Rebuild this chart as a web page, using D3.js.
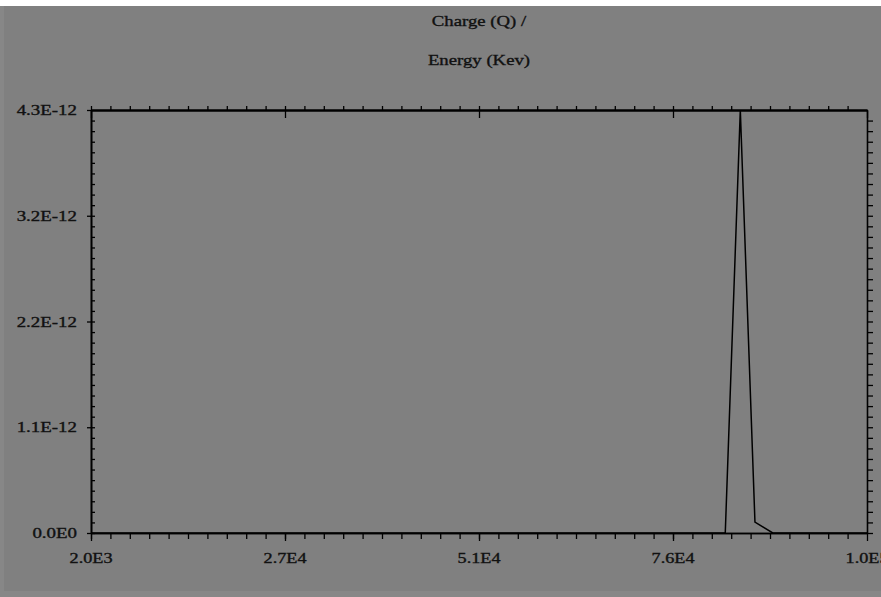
<!DOCTYPE html>
<html>
<head>
<meta charset="utf-8">
<script src="https://cdn.jsdelivr.net/npm/d3@7"></script>
<style>
  body { margin: 0; background: #fff; }
  text { font-family: "Liberation Serif", "DejaVu Serif", serif; fill: #111; stroke: #111; stroke-width: 0.35px; }
</style>
</head>
<body>
<svg id="chart"></svg>
<script>
// energy (keV) / charge pairs
const energy = [2000, 82100, 84000, 85850, 88100, 100000]
const charge = [0, 0, 4.3e-12, 0.11e-12, 0, 0]

const xTicks = [2000, 26500, 51000, 75500, 100000]
const xLabels = ['2.0E3', '2.7E4', '5.1E4', '7.6E4', '1.0E5']
const yTicks = [0, 1.075e-12, 2.15e-12, 3.225e-12, 4.3e-12]
const yLabels = ['0.0E0', '1.1E-12', '2.2E-12', '3.2E-12', '4.3E-12']
const titleLines = ['Charge (Q) /', 'Energy (Kev)']

let width = 881
let height = 597
let padLeft = 91, padRight = 14, padTop = 110, padBottom = 64

let svg = d3.select('#chart').attr('width', width).attr('height', height)

// background: white strip on top, gray panel
svg.append('rect').attr('width', width).attr('height', height).attr('fill', '#fff')
svg.append('rect').attr('x', 0).attr('y', 6).attr('width', width).attr('height', height - 6).attr('fill', '#878787')
svg.append('rect').attr('x', 4).attr('y', 6).attr('width', width - 4).attr('height', height - 12).attr('fill', '#808080')

let xScale = d3.scaleLinear().domain([2000, 100000]).range([padLeft, width - padRight])
let yScale = d3.scaleLinear().domain([0, 4.3e-12]).range([height - padBottom, padTop])

let xMinor = d3.range(40).map(i => 2000 + i * 2450)
let yMinor = d3.range(40).map(i => i * 1.075e-13)

const styleAxis = (g, w) => g
  .call(g => g.selectAll('path').attr('stroke', '#000').attr('stroke-width', w))
  .call(g => g.selectAll('line').attr('stroke', '#000').attr('stroke-width', 1.3))
  .call(g => g.selectAll('text').remove())

// bottom
svg.append('g').attr('transform', 'translate(0,' + (height - padBottom) + ')')
  .call(d3.axisBottom(xScale).tickValues(xMinor).tickSize(6).tickSizeOuter(0))
  .call(g => styleAxis(g, 1.6))
svg.append('g').attr('transform', 'translate(0,' + (height - padBottom) + ')')
  .call(d3.axisBottom(xScale).tickValues(xTicks).tickSize(8).tickSizeOuter(0))
  .call(g => styleAxis(g, 1.6))
// top
svg.append('g').attr('transform', 'translate(0,' + padTop + ')')
  .call(d3.axisTop(xScale).tickValues(xMinor).tickSize(4).tickSizeOuter(0))
  .call(g => styleAxis(g, 2))
svg.append('g').attr('transform', 'translate(0,' + padTop + ')')
  .call(d3.axisBottom(xScale).tickValues(xTicks).tickSize(8).tickSizeOuter(0))
  .call(g => styleAxis(g, 2))
// left
svg.append('g').attr('transform', 'translate(' + padLeft + ',0)')
  .call(d3.axisRight(yScale).tickValues(yMinor).tickSize(4).tickSizeOuter(0))
  .call(g => styleAxis(g, 1.6))
svg.append('g').attr('transform', 'translate(' + padLeft + ',0)')
  .call(d3.axisLeft(yScale).tickValues(yTicks).tickSize(4).tickSizeOuter(0))
  .call(g => styleAxis(g, 1.6))
// right
svg.append('g').attr('transform', 'translate(' + (width - padRight) + ',0)')
  .call(d3.axisRight(yScale).tickValues(yMinor).tickSize(6).tickSizeOuter(0))
  .call(g => styleAxis(g, 1.6))

// tick labels, stretched horizontally like the original
// (the last x label runs past the right edge, as in the source picture)
svg.append('g').selectAll('g').data(xTicks).join('g')
  .attr('transform', d => 'translate(' + xScale(d) + ',' + (height - padBottom + 30) + ') scale(1.3,1)')
  .append('text')
  .attr('text-anchor', 'middle')
  .style('font-size', '14px')
  .text((d, i) => xLabels[i])

svg.append('g').selectAll('g').data(yTicks).join('g')
  .attr('transform', d => 'translate(' + (padLeft - 14) + ',' + (yScale(d) + 5) + ') scale(1.35,1)')
  .append('text')
  .attr('text-anchor', 'end')
  .style('font-size', '14px')
  .text((d, i) => yLabels[i])

// title
svg.append('g').selectAll('g').data(titleLines).join('g')
  .attr('transform', (d, i) => 'translate(' + ((padLeft + width - padRight) / 2) + ',' + (26 + i * 39) + ') scale(1.25,1)')
  .append('text')
  .attr('text-anchor', 'middle')
  .style('font-size', '15px')
  .text(d => d)

// the curve
let line = d3.line()
  .x((d, i) => xScale(energy[i]))
  .y((d, i) => yScale(charge[i]))
svg.append('path')
  .attr('d', line(energy))
  .attr('fill', 'none')
  .attr('stroke', '#000')
  .attr('stroke-width', 1.5)
</script>
</body>
</html>
